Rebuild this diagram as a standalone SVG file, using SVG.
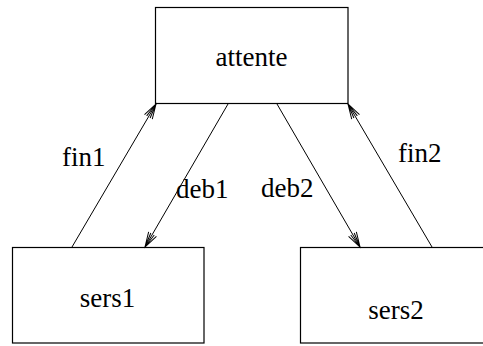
<svg xmlns="http://www.w3.org/2000/svg" width="483" height="346" viewBox="0 0 483 346">
<style>
.box{fill:#fff;stroke:#000;stroke-width:1.2}
text{font-family:'Liberation Serif','Times New Roman','DejaVu Serif',serif;font-size:27px;fill:#000}
.edge{fill:none;stroke:#000;stroke-width:1}
</style>
<defs>
<marker id="arr" markerUnits="userSpaceOnUse" markerWidth="20" markerHeight="12" refX="0" refY="0" viewBox="-16 -6 18 12" orient="auto">
<path d="M -15 -4.5 L 0 0 L -15 4.5 M -15 -2 L 0 0 L -15 2" fill="none" stroke="#000" stroke-width="1"/>
</marker>
</defs>
<rect width="483" height="346" fill="#fff"/>
<g id="attente">
<rect class="box" x="155.5" y="7.5" width="192.5" height="96"/>
<text font-family="Liberation Serif, serif" x="251.5" y="66" text-anchor="middle">attente</text>
</g>
<g id="sers1">
<rect class="box" x="12.5" y="247.5" width="191.5" height="95.5"/>
<text font-family="Liberation Serif, serif" x="107.5" y="307" text-anchor="middle">sers1</text>
</g>
<g id="sers2">
<rect class="box" x="300.5" y="247.5" width="192" height="95.5"/>
<text font-family="Liberation Serif, serif" x="396" y="319" text-anchor="middle">sers2</text>
</g>
<g id="connectors">
<line class="edge" x1="72" y1="247" x2="156" y2="104" marker-end="url(#arr)"/>
<line class="edge" x1="228" y1="104" x2="145" y2="247" marker-end="url(#arr)"/>
<line class="edge" x1="277" y1="104" x2="360" y2="247" marker-end="url(#arr)"/>
<line class="edge" x1="432" y1="247" x2="348" y2="104" marker-end="url(#arr)"/>
<text font-family="Liberation Serif, serif" x="62" y="166">fin1</text>
<text font-family="Liberation Serif, serif" x="176" y="198">deb1</text>
<text font-family="Liberation Serif, serif" x="261" y="197">deb2</text>
<text font-family="Liberation Serif, serif" x="398" y="162">fin2</text>
</g>
</svg>
